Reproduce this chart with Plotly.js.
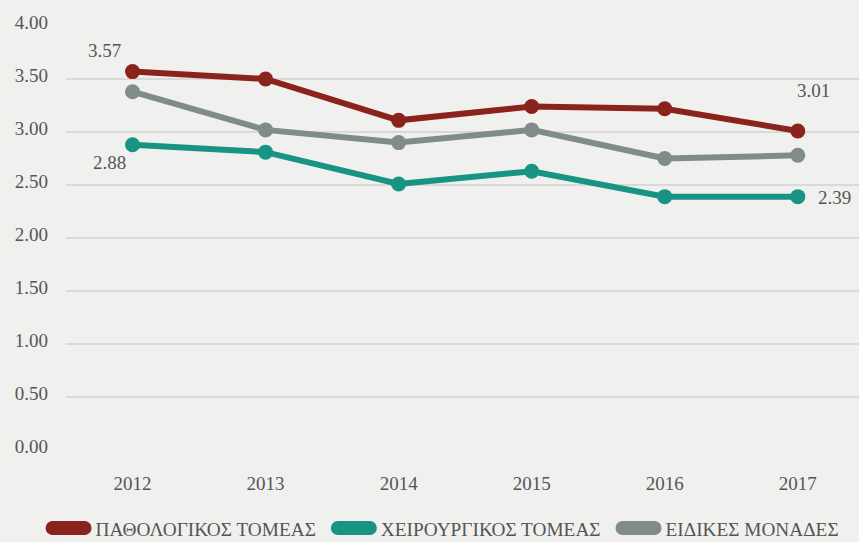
<!DOCTYPE html>
<html><head><meta charset="utf-8">
<script src="https://cdn.plot.ly/plotly-3.0.1.min.js"></script>
<style>html,body{margin:0;padding:0;background:#f0f0ef;}</style>
</head><body>
<div id="chart" style="width:859px;height:542px;"></div>
<script>
var years = ['2012','2013','2014','2015','2016','2017'];
var seriesNames = ['ΠΑΘΟΛΟΓΙΚΟΣ ΤΟΜΕΑΣ','ΧΕΙΡΟΥΡΓΙΚΟΣ ΤΟΜΕΑΣ','ΕΙΔΙΚΕΣ ΜΟΝΑΔΕΣ'];
var pathologikos = [3.57, 3.50, 3.11, 3.24, 3.22, 3.01];
var cheirourgikos = [2.88, 2.81, 2.51, 2.63, 2.39, 2.39];
var eidikes = [3.38, 3.02, 2.90, 3.02, 2.75, 2.78];
var yTicks = [0, 0.5, 1, 1.5, 2, 2.5, 3, 3.5, 4];
var yTickText = ['0.00','0.50','1.00','1.50','2.00','2.50','3.00','3.50','4.00'];

var colors = ['#8b231d', '#179483', '#7f8c89'];
var allSeries = [pathologikos, cheirourgikos, eidikes];
var FAMILY = "Liberation Serif";
function f(sz){ return {family: FAMILY, size: sz || 19, color: '#555555'}; }

var traces = [];
[2, 1, 0].forEach(function(i){
  traces.push({x: years, y: allSeries[i], name: seriesNames[i], type: 'scatter', mode: 'lines+markers',
    showlegend: false, line: {color: colors[i], width: 6}, marker: {color: colors[i], size: 15}});
});
[0, 1, 2].forEach(function(i){
  traces.push({x: [years[0]], y: [null], name: seriesNames[i], type: 'scatter', mode: 'lines',
    showlegend: true, line: {color: colors[i], width: 10}});
});

var annotations = [
  {x: 0, y: pathologikos[0], text: pathologikos[0].toFixed(2), xshift: -28, yshift: 21},
  {x: 0, y: cheirourgikos[0], text: cheirourgikos[0].toFixed(2), xshift: -23, yshift: -18},
  {x: 5, y: pathologikos[5], text: pathologikos[5].toFixed(2), xshift: 16, yshift: 40},
  {x: 5, y: cheirourgikos[5], text: cheirourgikos[5].toFixed(2), xshift: 37, yshift: -1}
].map(function(a){ a.xref='x'; a.yref='y'; a.showarrow=false; a.font=f(19); return a; });

var layout = {
  width: 859, height: 542,
  paper_bgcolor: '#f0f0ef', plot_bgcolor: '#f0f0ef',
  margin: {l: 65.5, r: 0, t: 26, b: 92, autoexpand: false},
  font: f(19),
  xaxis: {type: 'category', range: [-0.5, 5.46], showgrid: false, zeroline: false, showline: false,
    ticks: '', tickfont: f(19), ticklabelstandoff: 20, fixedrange: true},
  yaxis: {range: [0, 4], tickvals: yTicks, ticktext: yTickText, showgrid: true, gridcolor: '#d9d9d9', gridwidth: 1.5,
    zeroline: false, showline: false, ticks: '', tickfont: f(19), ticklabelstandoff: 17, ticklabelshift: -4, fixedrange: true},
  showlegend: true,
  legend: {orientation: 'h', x: -0.0384, xanchor: 'left', y: -0.139, yanchor: 'top', font: f(19.3),
    bgcolor: 'rgba(0,0,0,0)', itemwidth: 50, traceorder: 'normal'},
  annotations: annotations
};
function pillify(gd){
  gd.querySelectorAll('.legendlines path').forEach(function(p){
    p.setAttribute('d', 'M17,0h32');
    p.style.strokeWidth = '14px';
    p.style.strokeLinecap = 'round';
  });
}
Plotly.newPlot('chart', traces, layout, {displayModeBar: false, staticPlot: true}).then(function(gd){
  pillify(gd);
  gd.on('plotly_afterplot', function(){ pillify(gd); });
});
</script>
</body></html>
